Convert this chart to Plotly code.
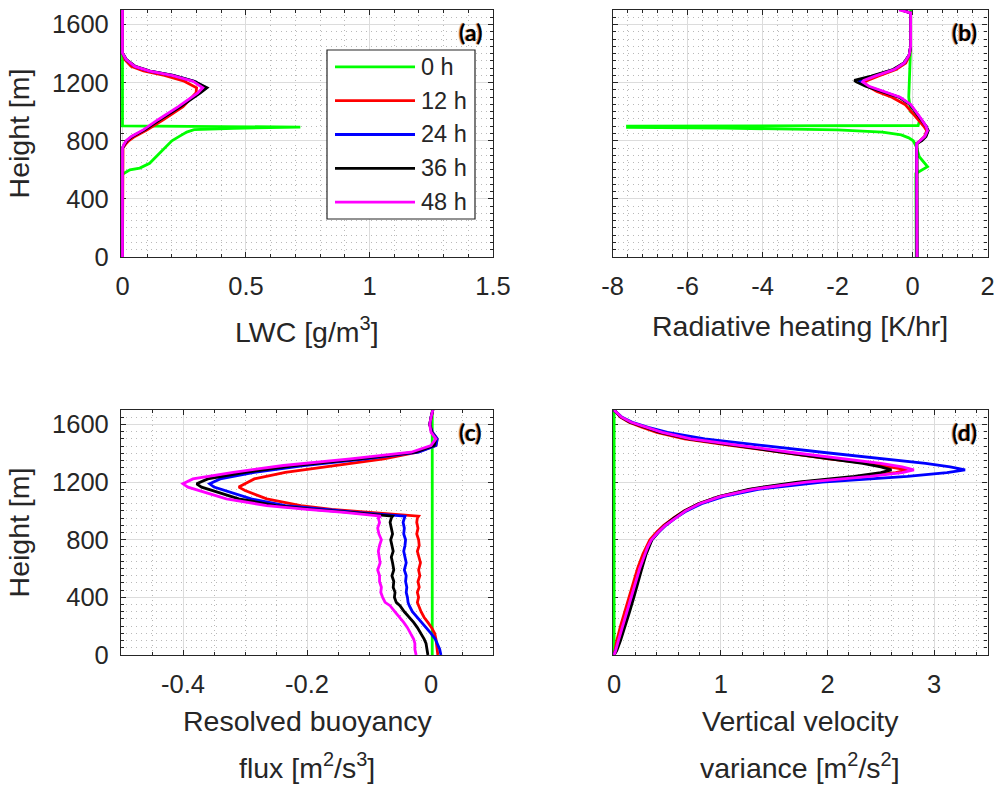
import plotly.graph_objects as go
from plotly.subplots import make_subplots

# ---------------------------------------------------------------- series
SERIES_NAMES = ["0 h", "12 h", "24 h", "36 h", "48 h"]
SERIES_COLORS = ["#00ff00", "#ff0000", "#0000ff", "#000000", "#ff00ff"]

# (a) liquid water content [g/m3]
LWC_Z_0H = [0, 570, 580, 600, 612, 645, 680, 715, 750, 770, 785, 800, 830, 860, 876, 886, 894, 899, 903, 1700]
LWC_0H = [0, 0, 0.01, 0.03, 0.07, 0.11, 0.13, 0.15, 0.17, 0.185, 0.19, 0.2, 0.23, 0.26, 0.29, 0.45, 0.72, 0.45, 0, 0]
LWC_Z = [0, 750, 775, 800, 830, 875, 945, 1035, 1130, 1165, 1210, 1250, 1280, 1312, 1358, 1405, 1700]
LWC_12H = [0, 0.002, 0.012, 0.025, 0.05, 0.1, 0.165, 0.245, 0.298, 0.3, 0.25, 0.17, 0.085, 0.035, 0.01, 0, 0]
LWC_24H = [0, 0, 0.007, 0.017, 0.039, 0.088, 0.15, 0.232, 0.312, 0.338, 0.29, 0.205, 0.11, 0.05, 0.015, 0, 0]
LWC_36H = [0, 0, 0.008, 0.018, 0.04, 0.09, 0.152, 0.235, 0.315, 0.342, 0.29, 0.205, 0.112, 0.052, 0.016, 0, 0]
LWC_48H = [0, 0, 0.006, 0.015, 0.036, 0.084, 0.144, 0.226, 0.305, 0.325, 0.285, 0.2, 0.11, 0.05, 0.015, 0, 0]

# (b) radiative heating rate [K/hr]
RAD_Z_0H = [0, 540, 575, 622, 690, 760, 800, 820, 840, 860, 875, 887, 893, 900, 905, 950, 1000, 1100, 1450, 1700]
RAD_0H = [0.1, 0.1, 0.09, 0.4, 0.18, 0.1, 0.02, -0.1, -0.3, -0.8, -2.0, -5.0, -7.6, -7.6, 0.15, 0.2, -0.05, -0.1, -0.05, -0.05]
RAD_Z = [0, 780, 800, 830, 870, 900, 955, 1000, 1050, 1100, 1140, 1175, 1205, 1215, 1245, 1290, 1335, 1390, 1450, 1680, 1700]
RAD_12H = [0.12, 0.11, 0.2, 0.32, 0.38, 0.3, 0.12, -0.02, -0.2, -0.55, -0.95, -1.2, -1.29, -1.2, -0.92, -0.44, -0.18, -0.08, -0.05, -0.05, -0.3]
RAD_24H = [0.12, 0.11, 0.22, 0.34, 0.41, 0.36, 0.21, 0.09, -0.06, -0.35, -0.82, -1.2, -1.42, -1.42, -1.05, -0.5, -0.22, -0.09, -0.05, -0.05, -0.3]
RAD_36H = [0.12, 0.12, 0.25, 0.36, 0.42, 0.36, 0.2, 0.08, -0.07, -0.36, -0.85, -1.25, -1.5, -1.55, -1.1, -0.52, -0.23, -0.09, -0.05, -0.05, -0.3]
RAD_48H = [0.12, 0.11, 0.2, 0.33, 0.4, 0.36, 0.22, 0.1, -0.05, -0.33, -0.8, -1.16, -1.33, -1.3, -1.0, -0.49, -0.22, -0.09, -0.05, -0.05, -0.36]

# (c) resolved buoyancy flux [m2/s3]
BUOY_Z_0H = [0, 1700]
BUOY_0H = [0.002, 0.002]
BUOY_Z = [0, 40, 80, 110, 150, 190, 226, 260, 300, 342, 365, 400, 435, 470, 510, 550, 590, 640, 680,
          720, 760, 800, 840, 880, 920, 950, 963, 990, 1010, 1037, 1083, 1141, 1165, 1188, 1222, 1268,
          1315, 1361, 1407, 1454, 1500, 1546, 1600, 1650, 1700]
BUOY_12H = [0.011, 0.01, 0.009, 0.008, 0.006, 0.001, -0.005, -0.011, -0.016, -0.02, -0.022, -0.02, -0.022,
            -0.019, -0.021, -0.018, -0.02, -0.017, -0.02, -0.022, -0.019, -0.02, -0.023, -0.021, -0.023,
            -0.022, -0.02, -0.1, -0.16, -0.21, -0.265, -0.3, -0.31, -0.3, -0.285, -0.235, -0.15, -0.076,
            -0.022, 0.008, 0.01, 0.002, -0.002, 0.0, 0.003]
BUOY_24H = [0.016, 0.014, 0.01, 0.007, 0.0, -0.008, -0.015, -0.022, -0.03, -0.035, -0.037, -0.038, -0.04,
            -0.039, -0.041, -0.04, -0.043, -0.04, -0.042, -0.044, -0.042, -0.041, -0.044, -0.043, -0.045,
            -0.043, -0.042, -0.12, -0.175, -0.235, -0.29, -0.335, -0.35, -0.357, -0.34, -0.285, -0.205,
            -0.105, -0.02, 0.008, 0.01, 0.002, -0.002, 0.0, 0.003]
BUOY_36H = [-0.005, -0.006, -0.008, -0.011, -0.016, -0.022, -0.028, -0.035, -0.043, -0.05, -0.056, -0.059,
            -0.058, -0.061, -0.06, -0.063, -0.06, -0.062, -0.064, -0.061, -0.063, -0.065, -0.062, -0.064,
            -0.066, -0.064, -0.062, -0.13, -0.19, -0.25, -0.31, -0.352, -0.37, -0.378, -0.36, -0.3, -0.22,
            -0.115, -0.025, 0.005, 0.008, 0.001, -0.002, 0.0, 0.003]
BUOY_48H = [-0.024, -0.026, -0.026, -0.028, -0.033, -0.038, -0.044, -0.051, -0.058, -0.066, -0.074, -0.078,
            -0.081, -0.08, -0.083, -0.083, -0.086, -0.082, -0.084, -0.085, -0.083, -0.08, -0.084, -0.086,
            -0.083, -0.085, -0.081, -0.14, -0.2, -0.265, -0.33, -0.373, -0.392, -0.4, -0.384, -0.319, -0.238,
            -0.13, -0.032, 0.0, 0.008, 0.0, -0.002, 0.0, 0.003]

# (d) vertical velocity variance [m2/s2]
WVAR_Z_0H = [0, 1700]
WVAR_0H = [0, 0]
WVAR_Z = [0, 30, 100, 200, 300, 400, 500, 600, 700, 750, 800, 850, 900, 950, 1000, 1050, 1100, 1150, 1200,
          1240, 1265, 1285, 1305, 1330, 1360, 1405, 1455, 1500, 1545, 1580, 1615, 1650, 1685, 1700]
WVAR_12H = [0, 0.008, 0.025, 0.06, 0.1, 0.14, 0.18, 0.22, 0.27, 0.3, 0.335, 0.395, 0.465, 0.555, 0.655, 0.79,
            0.99, 1.28, 1.76, 2.35, 2.64, 2.75, 2.6, 2.38, 2.03, 1.57, 1.09, 0.66, 0.4, 0.26, 0.14, 0.06,
            0.015, 0]
WVAR_24H = [0, 0.015, 0.045, 0.09, 0.13, 0.17, 0.21, 0.25, 0.295, 0.32, 0.355, 0.415, 0.485, 0.575, 0.68,
            0.82, 1.03, 1.35, 1.95, 2.75, 3.12, 3.29, 3.15, 2.92, 2.52, 1.97, 1.38, 0.85, 0.5, 0.32, 0.17,
            0.075, 0.02, 0]
WVAR_36H = [0, 0.025, 0.06, 0.105, 0.145, 0.185, 0.22, 0.26, 0.3, 0.325, 0.355, 0.41, 0.475, 0.56, 0.66,
            0.79, 0.98, 1.26, 1.72, 2.25, 2.5, 2.6, 2.5, 2.33, 2.02, 1.6, 1.13, 0.7, 0.43, 0.28, 0.15, 0.065,
            0.018, 0]
WVAR_48H = [0, 0.015, 0.04, 0.08, 0.12, 0.16, 0.2, 0.24, 0.29, 0.315, 0.35, 0.41, 0.48, 0.57, 0.67, 0.8,
            1.0, 1.3, 1.8, 2.4, 2.7, 2.81, 2.7, 2.5, 2.15, 1.67, 1.17, 0.72, 0.45, 0.3, 0.16, 0.07, 0.018, 0]

PANELS = [
    dict(z=[LWC_Z_0H, LWC_Z, LWC_Z, LWC_Z, LWC_Z],
         v=[LWC_0H, LWC_12H, LWC_24H, LWC_36H, LWC_48H], tag="(a)"),
    dict(z=[RAD_Z_0H, RAD_Z, RAD_Z, RAD_Z, RAD_Z],
         v=[RAD_0H, RAD_12H, RAD_24H, RAD_36H, RAD_48H], tag="(b)"),
    dict(z=[BUOY_Z_0H, BUOY_Z, BUOY_Z, BUOY_Z, BUOY_Z],
         v=[BUOY_0H, BUOY_12H, BUOY_24H, BUOY_36H, BUOY_48H], tag="(c)"),
    dict(z=[WVAR_Z_0H, WVAR_Z, WVAR_Z, WVAR_Z, WVAR_Z],
         v=[WVAR_0H, WVAR_12H, WVAR_24H, WVAR_36H, WVAR_48H], tag="(d)"),
]

X_TICKS = [[0, 0.5, 1, 1.5], [-8, -6, -4, -2, 0, 2], [-0.4, -0.2, 0], [0, 1, 2, 3]]
X_TICKTEXT = [["0", "0.5", "1", "1.5"], ["-8", "-6", "-4", "-2", "0", "2"],
              ["-0.4", "-0.2", "0"], ["0", "1", "2", "3"]]
X_RANGES = [[-0.006, 1.5], [-8, 2], [-0.5, 0.1], [-0.015, 3.5]]
X_MINOR = [0.1, 0.4, 0.05, 0.2]
X_TITLES = [["LWC [g/m<sup>3</sup>]"], ["Radiative heating [K/hr]"],
            ["Resolved buoyancy", "flux [m<sup>2</sup>/s<sup>3</sup>]"],
            ["Vertical velocity", "variance [m<sup>2</sup>/s<sup>2</sup>]"]]
Y_TICKS = [0, 400, 800, 1200, 1600]
Y_MINOR = 50
Y_RANGE = [0, 1700]

# ---------------------------------------------------------------- layout
W, H = 994, 787
COLS = [(121, 493), (612.5, 987.5)]
ROWS = [(10, 257), (410, 655)]
INK = "#262626"
FONT = "Liberation Sans, Arial, sans-serif"

fig = make_subplots(rows=2, cols=2)

for i, p in enumerate(PANELS):
    r, c = divmod(i, 2)
    for name, color, z, v in zip(SERIES_NAMES, SERIES_COLORS, p["z"], p["v"]):
        fig.add_trace(go.Scatter(x=v, y=z, mode="lines", name=name, showlegend=False,
                                 line=dict(color=color, width=2.8)),
                      row=r + 1, col=c + 1)

    x0, x1 = COLS[c]
    y0, y1 = ROWS[r]
    ax = "" if i == 0 else str(i + 1)
    minor = dict(showgrid=True, gridcolor="#b9b9b9", griddash="1px,4px", gridwidth=1,
                 ticks="inside", ticklen=3, tickcolor=INK)
    common = dict(showline=True, mirror="ticks", linecolor=INK, linewidth=1.2,
                  ticks="inside", ticklen=5, tickcolor=INK, tickwidth=1,
                  showgrid=True, gridcolor="#dcdcdc", gridwidth=1,
                  tickfont=dict(family=FONT, size=25.5, color=INK),
                  zeroline=False, layer="below traces", automargin=False,
                  ticklabeloverflow="allow")
    fig.layout["xaxis" + ax].update(
        domain=[x0 / W, x1 / W], range=X_RANGES[i],
        tickmode="array", tickvals=X_TICKS[i], ticktext=X_TICKTEXT[i],
        ticklabelstandoff=6, minor=dict(dtick=X_MINOR[i], **minor), **common)
    fig.layout["yaxis" + ax].update(
        domain=[1 - y1 / H, 1 - y0 / H], range=Y_RANGE,
        tickmode="array", tickvals=Y_TICKS, showticklabels=(c == 0),
        ticklabelstandoff=6, minor=dict(dtick=Y_MINOR, **minor), **common)
    if c == 0:
        fig.layout["yaxis" + ax].title = dict(text="Height [m]", standoff=14,
                                              font=dict(family=FONT, size=28.5, color=INK))

    # panel tag in the upper right corner
    fig.add_annotation(x=(x1 - 23) / W, y=1 - (y0 + 22) / H, xref="paper", yref="paper",
                       text=p["tag"], showarrow=False, xanchor="center", yanchor="middle",
                       font=dict(family="Lato, sans-serif", size=23, color="black", weight="bold",
                                 shadow="-1px 0px 1px #c9782a"))
    # x-axis title, one annotation per line
    title_y = [330, 326] if r == 0 else [721, 766]
    if len(X_TITLES[i]) == 1:
        title_y = [title_y[0] if c == 0 else title_y[1]]
    for k, line in enumerate(X_TITLES[i]):
        fig.add_annotation(x=(x0 + x1) / 2 / W, y=1 - title_y[k] / H, xref="paper", yref="paper",
                           text=line, showarrow=False, xanchor="center", yanchor="middle",
                           font=dict(family=FONT, size=28.5, color=INK))

# legend box inside panel (a)
LEG_BOX = (327, 50, 475, 219)
fig.add_shape(type="rect", xref="paper", yref="paper",
              x0=LEG_BOX[0] / W, x1=LEG_BOX[2] / W, y0=1 - LEG_BOX[3] / H, y1=1 - LEG_BOX[1] / H,
              line=dict(color=INK, width=1.2), fillcolor="white", layer="above")
row_h = (LEG_BOX[3] - LEG_BOX[1]) / len(SERIES_NAMES)
for k, (name, color) in enumerate(zip(SERIES_NAMES, SERIES_COLORS)):
    yy = 1 - (LEG_BOX[1] + row_h * (k + 0.5)) / H
    fig.add_shape(type="line", xref="paper", yref="paper",
                  x0=335 / W, x1=415 / W, y0=yy, y1=yy,
                  line=dict(color=color, width=2.8), layer="above")
    fig.add_annotation(x=419 / W, y=yy, xref="paper", yref="paper", text=name, showarrow=False,
                       xanchor="left", yanchor="middle",
                       font=dict(family=FONT, size=23.5, color=INK))

fig.update_layout(width=W, height=H, margin=dict(l=0, r=0, t=0, b=0),
                  paper_bgcolor="white", plot_bgcolor="white", showlegend=False)

fig.write_html("out.html")
